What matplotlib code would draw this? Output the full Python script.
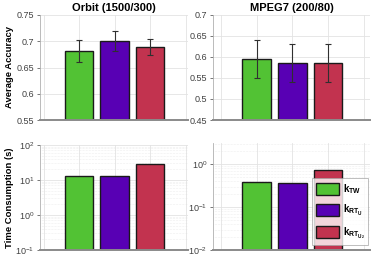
import numpy as np
import matplotlib
matplotlib.use("Agg")
import matplotlib.pyplot as plt
from matplotlib.patches import Patch

# -------------------------------
# Data
# -------------------------------
methods = ["TW", "RTU", "RTU2"]
legend_labels = [r"$k_{TW}$", r"$k_{RT_U}$", r"$k_{RT_{U_2}}$"]
colors = ["#52c234", "#5800b4", "#c2334f"]

orbit_acc = [0.682, 0.701, 0.689]
orbit_err = [0.021, 0.019, 0.016]
mpeg_acc = [0.595, 0.585, 0.585]
mpeg_err = [0.046, 0.045, 0.045]

orbit_time = [13.3, 13.2, 29.0]
mpeg_time = [0.38, 0.36, 0.72]

plt.rcParams["font.family"] = ["Liberation Sans", "DejaVu Sans"]
plt.rcParams["mathtext.fontset"] = "custom"
plt.rcParams["mathtext.bf"] = "Liberation Sans:bold"
plt.rcParams["mathtext.rm"] = "Liberation Sans:bold"
plt.rcParams["mathtext.default"] = "bf"

W, H = 374, 259
fig = plt.figure(figsize=(W / 100, H / 100), dpi=100)


def px_axes(left, top, right, bottom):
    return fig.add_axes([left / W, 1 - bottom / H, (right - left) / W, (bottom - top) / H])


def style(ax, log=False):
    ax.spines["top"].set_visible(False)
    ax.spines["right"].set_visible(False)
    ax.spines["left"].set_color("#b0b0b0")
    ax.spines["left"].set_linewidth(0.6)
    ax.spines["bottom"].set_color("#8a8a8a")
    ax.spines["bottom"].set_linewidth(1.4)
    ax.set_xticks([0, 1, 2, 3, 4])
    ax.set_xticklabels([])
    ax.tick_params(axis="x", length=0)
    ax.tick_params(axis="y", labelsize=6.5, colors="#404040", length=2, width=0.5, pad=2)
    ax.grid(True, which="major", color="#e3e3e3", linewidth=0.6)
    if log:
        ax.grid(True, which="minor", axis="y", color="#e0e0e0", linewidth=0.4, linestyle=":")
        ax.tick_params(axis="y", which="minor", length=0)
    ax.set_axisbelow(True)


x = np.arange(1, 4)

# Orbit accuracy
ax1 = px_axes(40, 15, 188, 120)
ax1.bar(x, orbit_acc, width=0.8, color=colors, edgecolor="#1a1a1a", linewidth=1.0)
ax1.errorbar(x, orbit_acc, yerr=orbit_err, fmt="none", ecolor="#303030", elinewidth=0.8, capsize=2.5, capthick=0.8)
ax1.set_ylim(0.55, 0.75)
ax1.set_yticks([0.55, 0.6, 0.65, 0.7, 0.75])
ax1.set_yticklabels(["0.55", "0.6", "0.65", "0.7", "0.75"])
ax1.set_xlim(-0.1, 4.07)
ax1.set_title("Orbit (1500/300)", fontsize=8, fontweight="bold", pad=3)
ax1.set_ylabel("Average Accuracy", fontsize=6.8, fontweight="bold")
ax1.yaxis.set_label_coords(-0.175, 0.5)
style(ax1)

# MPEG7 accuracy
ax2 = px_axes(213, 15, 370, 120)
ax2.bar(x, mpeg_acc, width=0.8, color=colors, edgecolor="#1a1a1a", linewidth=1.0)
ax2.errorbar(x, mpeg_acc, yerr=mpeg_err, fmt="none", ecolor="#303030", elinewidth=0.8, capsize=2.5, capthick=0.8)
ax2.set_ylim(0.45, 0.7)
ax2.set_yticks([0.45, 0.5, 0.55, 0.6, 0.65, 0.7])
ax2.set_yticklabels(["0.45", "0.5", "0.55", "0.6", "0.65", "0.7"])
ax2.set_xlim(-0.22, 4.17)
ax2.set_title("MPEG7 (200/80)", fontsize=8, fontweight="bold", pad=3)
style(ax2)

# Orbit time
ax3 = px_axes(40, 145, 188, 250)
ax3.bar(x, orbit_time, width=0.8, color=colors, edgecolor="#1a1a1a", linewidth=1.0, bottom=0.1)
ax3.set_yscale("log")
ax3.set_ylim(0.1, 100)
ax3.set_xlim(-0.1, 4.07)
ax3.set_ylabel("Time Consumption (s)", fontsize=6.8, fontweight="bold")
ax3.yaxis.set_label_coords(-0.175, 0.5)
style(ax3, log=True)

# MPEG7 time
ax4 = px_axes(213, 143, 370, 250)
ax4.bar(x, mpeg_time, width=0.8, color=colors, edgecolor="#1a1a1a", linewidth=1.0, bottom=0.01)
ax4.set_yscale("log")
ax4.set_ylim(0.01, 3.1)
ax4.set_xlim(-0.22, 4.17)
style(ax4, log=True)

handles = [Patch(facecolor=c, edgecolor="#1a1a1a", linewidth=1.0) for c in colors]
leg = ax4.legend(handles, legend_labels, loc="lower right", bbox_to_anchor=(0.99, 0.045),
                 fontsize=7, frameon=True, fancybox=False, edgecolor="#a0a0a0",
                 handlelength=2.3, handleheight=1.5, handletextpad=0.4,
                 labelspacing=0.75, borderpad=0.4, borderaxespad=0.0)
leg.get_frame().set_linewidth(0.6)

fig.savefig("out.png", dpi=100)
